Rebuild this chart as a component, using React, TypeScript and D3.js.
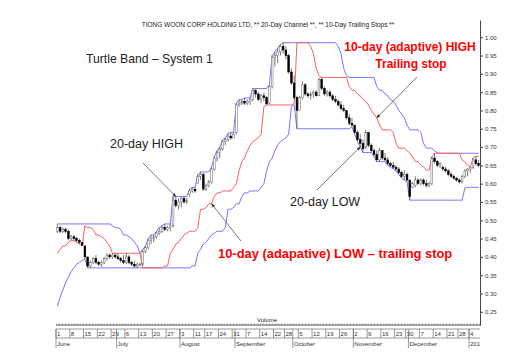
import React, { useRef, useEffect } from "react";
import * as d3 from "d3";

const W = 511;
const H = 359;

// 19 sessions before 1 June, only used to warm up the rolling windows
const priorHigh = [0.3, 0.32, 0.34, 0.36, 0.37, 0.38, 0.39, 0.4, 0.405, 0.42, 0.44, 0.45, 0.45, 0.46, 0.47, 0.48, 0.48, 0.485, 0.49];
const priorLow = [0.265, 0.29, 0.31, 0.33, 0.345, 0.36, 0.37, 0.38, 0.385, 0.39, 0.41, 0.42, 0.43, 0.43, 0.44, 0.45, 0.46, 0.46, 0.47];

// daily OHLC, 1 Jun 2009 .. 7 Jan 2010
const open = [
  0.47, 0.48, 0.47, 0.475, 0.47, 0.45, 0.455, 0.45, 0.445, 0.44, 0.43, 0.4, 0.375, 0.385, 0.395, 0.385, 0.38, 0.385, 0.395, 0.405, 0.4, 0.405,
  0.4, 0.395, 0.39, 0.385, 0.4, 0.385, 0.38, 0.375, 0.38, 0.38, 0.415, 0.425, 0.445, 0.45, 0.455, 0.465, 0.47, 0.48, 0.475, 0.48, 0.485, 0.555, 0.54,
  0.55, 0.56, 0.55, 0.57, 0.58, 0.585, 0.6, 0.62, 0.625, 0.585, 0.595, 0.605, 0.64, 0.67, 0.685, 0.695, 0.715, 0.72, 0.73, 0.725,
  0.74, 0.815, 0.82, 0.825, 0.82, 0.825, 0.83, 0.855, 0.845, 0.83, 0.84, 0.835, 0.82, 0.865, 0.945, 0.95, 0.96, 0.975, 0.965, 0.95, 0.905,
  0.875, 0.835, 0.8, 0.835, 0.87, 0.845, 0.84, 0.845, 0.85, 0.84, 0.885, 0.86, 0.845, 0.85, 0.84, 0.83, 0.825, 0.815, 0.805, 0.8, 0.78, 0.765,
  0.76, 0.74, 0.72, 0.71, 0.7, 0.74, 0.705, 0.69, 0.68, 0.665, 0.69, 0.67, 0.665, 0.655, 0.65, 0.645, 0.64, 0.63, 0.62, 0.625,
  0.61, 0.59, 0.595, 0.61, 0.6, 0.61, 0.6, 0.595, 0.6, 0.67, 0.66, 0.65, 0.645, 0.64, 0.635, 0.625, 0.62, 0.615, 0.61, 0.605, 0.62, 0.635,
  0.64, 0.645, 0.665, 0.655,
];
const high = [
  0.49, 0.485, 0.48, 0.48, 0.475, 0.46, 0.46, 0.455, 0.45, 0.44, 0.43, 0.4, 0.39, 0.4, 0.405, 0.39, 0.39, 0.4, 0.41, 0.41, 0.41, 0.41,
  0.41, 0.4, 0.405, 0.41, 0.405, 0.39, 0.39, 0.385, 0.385, 0.42, 0.43, 0.45, 0.46, 0.46, 0.47, 0.48, 0.485, 0.49, 0.485, 0.49, 0.565, 0.565, 0.56,
  0.565, 0.565, 0.56, 0.585, 0.59, 0.59, 0.625, 0.632, 0.63, 0.6, 0.61, 0.645, 0.674, 0.69, 0.7, 0.72, 0.725, 0.737, 0.74, 0.74,
  0.82, 0.83, 0.83, 0.834, 0.83, 0.835, 0.86, 0.86, 0.85, 0.845, 0.848, 0.84, 0.87, 0.95, 0.96, 0.97, 0.98, 0.985, 0.975, 0.955, 0.915,
  0.895, 0.84, 0.84, 0.88, 0.875, 0.85, 0.85, 0.855, 0.855, 0.89, 0.89, 0.865, 0.855, 0.855, 0.845, 0.84, 0.83, 0.825, 0.815, 0.8, 0.79, 0.78,
  0.76, 0.745, 0.735, 0.72, 0.747, 0.74, 0.71, 0.695, 0.69, 0.697, 0.69, 0.684, 0.673, 0.66, 0.66, 0.65, 0.646, 0.635, 0.637, 0.63,
  0.61, 0.605, 0.62, 0.615, 0.615, 0.615, 0.61, 0.605, 0.673, 0.683, 0.665, 0.66, 0.65, 0.646, 0.64, 0.632, 0.625, 0.618, 0.615, 0.625, 0.64, 0.643,
  0.646, 0.67, 0.675, 0.665,
];
const low = [
  0.465, 0.465, 0.465, 0.465, 0.445, 0.445, 0.445, 0.44, 0.435, 0.43, 0.395, 0.37, 0.37, 0.38, 0.38, 0.375, 0.373, 0.38, 0.39, 0.395, 0.395, 0.395,
  0.39, 0.385, 0.38, 0.38, 0.38, 0.375, 0.37, 0.37, 0.375, 0.375, 0.41, 0.42, 0.435, 0.44, 0.45, 0.46, 0.465, 0.47, 0.47, 0.47, 0.48, 0.535, 0.53,
  0.535, 0.545, 0.545, 0.565, 0.575, 0.575, 0.6, 0.61, 0.58, 0.58, 0.59, 0.6, 0.635, 0.66, 0.67, 0.69, 0.705, 0.715, 0.72, 0.725,
  0.735, 0.81, 0.815, 0.815, 0.815, 0.815, 0.825, 0.835, 0.825, 0.82, 0.825, 0.815, 0.818, 0.86, 0.92, 0.93, 0.95, 0.955, 0.94, 0.9, 0.87,
  0.83, 0.75, 0.8, 0.83, 0.84, 0.835, 0.83, 0.835, 0.838, 0.84, 0.855, 0.84, 0.838, 0.835, 0.825, 0.82, 0.81, 0.8, 0.795, 0.775, 0.76, 0.755,
  0.735, 0.715, 0.7, 0.685, 0.695, 0.7, 0.685, 0.675, 0.66, 0.66, 0.665, 0.66, 0.65, 0.645, 0.64, 0.635, 0.625, 0.615, 0.61, 0.605,
  0.555, 0.588, 0.59, 0.596, 0.595, 0.595, 0.59, 0.59, 0.596, 0.655, 0.645, 0.643, 0.635, 0.63, 0.62, 0.615, 0.61, 0.605, 0.6, 0.6, 0.615, 0.62,
  0.63, 0.64, 0.65, 0.645,
];
const close = [
  0.48, 0.47, 0.475, 0.47, 0.45, 0.455, 0.45, 0.445, 0.44, 0.432, 0.4, 0.375, 0.385, 0.395, 0.385, 0.38, 0.385, 0.395, 0.405, 0.4, 0.405, 0.4,
  0.395, 0.39, 0.385, 0.4, 0.385, 0.38, 0.375, 0.38, 0.38, 0.415, 0.425, 0.445, 0.45, 0.455, 0.465, 0.47, 0.48, 0.475, 0.48, 0.485, 0.555, 0.54, 0.55,
  0.56, 0.55, 0.555, 0.58, 0.585, 0.58, 0.62, 0.625, 0.585, 0.595, 0.605, 0.64, 0.67, 0.685, 0.695, 0.715, 0.72, 0.73, 0.725, 0.735,
  0.815, 0.82, 0.825, 0.82, 0.825, 0.83, 0.855, 0.845, 0.83, 0.84, 0.835, 0.818, 0.865, 0.945, 0.95, 0.96, 0.975, 0.965, 0.95, 0.905, 0.875,
  0.835, 0.8, 0.835, 0.87, 0.845, 0.84, 0.845, 0.85, 0.84, 0.885, 0.86, 0.845, 0.85, 0.84, 0.83, 0.825, 0.815, 0.805, 0.8, 0.78, 0.765, 0.76,
  0.74, 0.72, 0.71, 0.695, 0.74, 0.705, 0.69, 0.68, 0.665, 0.69, 0.67, 0.665, 0.655, 0.65, 0.645, 0.64, 0.63, 0.62, 0.625, 0.61,
  0.565, 0.6, 0.61, 0.6, 0.61, 0.6, 0.595, 0.6, 0.67, 0.66, 0.65, 0.655, 0.64, 0.635, 0.625, 0.62, 0.615, 0.61, 0.605, 0.62, 0.635, 0.64,
  0.645, 0.665, 0.655, 0.65,
];

const firstDay = "2009-06-01";
const lastDay = "2010-01-07";
const holidays = ["2009-08-10", "2009-09-21", "2009-11-27", "2009-12-25", "2010-01-01"];
const monthNames = ["June", "July", "August", "September", "October", "November", "December", "2010"];
const yTicks = [1.0, 0.95, 0.9, 0.85, 0.8, 0.75, 0.7, 0.65, 0.6, 0.55, 0.5, 0.45, 0.4, 0.35, 0.3, 0.25];

// which side the adaptive 10-day stop sits on, from a given session
const stopModes = [
  { from: 0, side: "long" },
  { from: 10, side: "short" },
  { from: 31, side: "long" },
  { from: 87, side: "short" },
];

const FONT = "Liberation Sans, Arial, sans-serif";
const BLUE = "#7474ff";
const RED = "#ff5c5c";

const App = () => {
  const svgRef = useRef<SVGSVGElement>(null);

  useEffect(() => {
    const svg = d3.select(svgRef.current);
    svg.selectAll("*").remove();

    const fmt = d3.utcFormat("%Y-%m-%d");
    const days = d3.utcDay
      .range(new Date(firstDay), d3.utcDay.offset(new Date(lastDay), 1))
      .filter((d) => d.getUTCDay() % 6 !== 0 && !holidays.includes(fmt(d)));
    const n = close.length;
    const idx = d3.range(n);

    // rolling channels
    const allHigh = priorHigh.concat(high);
    const allLow = priorLow.concat(low);
    const off = priorHigh.length;
    const rollMax = (i: number, len: number) => d3.max(allHigh.slice(i + off - len + 1, i + off + 1)) as number;
    const rollMin = (i: number, len: number) => d3.min(allLow.slice(i + off - len + 1, i + off + 1)) as number;
    const hi20 = idx.map((i) => rollMax(i, 20));
    const lo20 = idx.map((i) => rollMin(i, 20));
    const stop10 = idx.map((i) => {
      const mode = stopModes.filter((m) => m.from <= i).pop()!;
      return mode.side === "long" ? rollMin(i, 10) : rollMax(i, 10);
    });

    const x = d3.scaleBand<number>().domain(idx).range([56, 480]).padding(0);
    const bw = x.bandwidth();
    const cx = (i: number) => (x(i) as number) + bw / 2;
    const y = d3.scaleLinear().domain([0.214, 1.047]).range([325, 20]);

    const defs = svg.append("defs");
    defs
      .append("marker")
      .attr("id", "ah")
      .attr("viewBox", "0 0 10 10")
      .attr("refX", 9)
      .attr("refY", 5)
      .attr("markerWidth", 5)
      .attr("markerHeight", 5)
      .attr("orient", "auto")
      .append("path")
      .attr("d", "M0,1L10,5L0,9Z")
      .attr("fill", "#333");
    defs.append("clipPath").attr("id", "plotclip").append("rect").attr("x", 0).attr("y", 0).attr("width", 480).attr("height", H);

    svg.append("rect").attr("width", W).attr("height", H).attr("fill", "#fff");

    // title
    svg
      .append("text")
      .attr("x", 268)
      .attr("y", 27)
      .attr("text-anchor", "middle")
      .attr("font-family", FONT)
      .attr("font-size", 6.5)
      .attr("fill", "#222")
      .text("TIONG WOON CORP HOLDING LTD, ** 20-Day Channel **, ** 10-Day Trailing Stops **");

    // channel lines
    const line = d3
      .line<number>()
      .x((_, i) => cx(i))
      .y((v) => y(v));
    svg.append("path").attr("d", line(hi20)).attr("fill", "none").attr("stroke", BLUE).attr("stroke-width", 1);
    svg.append("path").attr("d", line(lo20)).attr("fill", "none").attr("stroke", BLUE).attr("stroke-width", 1);
    svg.append("path").attr("d", line(stop10)).attr("fill", "none").attr("stroke", RED).attr("stroke-width", 1);

    // candles
    const g = svg.append("g");
    g.selectAll("line.wick")
      .data(idx)
      .enter()
      .append("line")
      .attr("x1", (i) => cx(i))
      .attr("x2", (i) => cx(i))
      .attr("y1", (i) => y(high[i]))
      .attr("y2", (i) => y(low[i]))
      .attr("stroke", "#555")
      .attr("stroke-width", 0.8);
    g.selectAll("rect.body")
      .data(idx)
      .enter()
      .append("rect")
      .attr("x", (i) => cx(i) - 0.9)
      .attr("width", 1.8)
      .attr("y", (i) => y(Math.max(open[i], close[i])))
      .attr("height", (i) => Math.max(0.8, Math.abs(y(open[i]) - y(close[i]))))
      .attr("fill", (i) => (close[i] < open[i] ? "#000" : "#fff"))
      .attr("stroke", (i) => (close[i] < open[i] ? "#000" : "#666"))
      .attr("stroke-width", 0.5);

    // right price axis
    const ya = svg
      .append("g")
      .attr("transform", "translate(480,0)")
      .call(d3.axisRight(y).tickValues(yTicks).tickFormat(d3.format(".2f")).tickSize(3).tickSizeOuter(0));
    ya.select(".domain").attr("stroke", "#444");
    ya.selectAll(".tick line").attr("stroke", "#444");
    ya.selectAll(".tick text").attr("font-family", FONT).attr("font-size", 6).attr("fill", "#333").attr("x", 5);
    ya.selectAll("line.minor")
      .data(d3.range(0.225, 1.03, 0.025))
      .enter()
      .append("line")
      .attr("x1", 0)
      .attr("x2", 1.5)
      .attr("y1", (v) => y(v))
      .attr("y2", (v) => y(v))
      .attr("stroke", "#666")
      .attr("stroke-width", 0.6);

    // bottom date axis
    const ax = svg.append("g").attr("font-family", FONT).attr("fill", "#333");
    ax.append("line").attr("x1", 56).attr("x2", 481).attr("y1", 325).attr("y2", 325).attr("stroke", "#444");
    ax.append("line")
      .attr("x1", 56)
      .attr("x2", 480)
      .attr("y1", 323.5)
      .attr("y2", 323.5)
      .attr("stroke", "#999")
      .attr("stroke-width", 0.6)
      .attr("stroke-dasharray", "1,2");
    ax.append("line").attr("x1", 56).attr("x2", 480).attr("y1", 329).attr("y2", 329).attr("stroke", "#555").attr("stroke-width", 0.6);
    ax.append("line").attr("x1", 56).attr("x2", 480).attr("y1", 338).attr("y2", 338).attr("stroke", "#555").attr("stroke-width", 0.6);

    const weekStarts = idx.filter((i) => i === 0 || +d3.utcMonday.floor(days[i]) !== +d3.utcMonday.floor(days[i - 1]));
    const monthStarts = idx.filter((i) => i === 0 || days[i].getUTCMonth() !== days[i - 1].getUTCMonth());

    ax.selectAll("line.wk")
      .data(weekStarts)
      .enter()
      .append("line")
      .attr("x1", (i) => x(i) as number)
      .attr("x2", (i) => x(i) as number)
      .attr("y1", 329)
      .attr("y2", 338)
      .attr("stroke", "#555")
      .attr("stroke-width", 0.6);
    ax.selectAll("text.wk")
      .data(weekStarts)
      .enter()
      .append("text")
      .attr("x", (i) => (x(i) as number) + 1)
      .attr("y", 335.5)
      .attr("font-size", 6)
      .text((i) => days[i].getUTCDate());
    ax.selectAll("line.mo")
      .data(monthStarts)
      .enter()
      .append("line")
      .attr("x1", (i) => x(i) as number)
      .attr("x2", (i) => x(i) as number)
      .attr("y1", 329)
      .attr("y2", 348)
      .attr("stroke", "#555")
      .attr("stroke-width", 0.6);
    ax.append("g")
      .attr("clip-path", "url(#plotclip)")
      .selectAll("text")
      .data(monthStarts)
      .enter()
      .append("text")
      .attr("x", (i) => (x(i) as number) + 1)
      .attr("y", 345.5)
      .attr("font-size", 6)
      .text((_, k) => monthNames[k]);
    ax.append("text").attr("x", 257).attr("y", 321.5).attr("font-size", 6).attr("fill", "#222").text("Volume");

    // annotations
    const note = (tx: number, ty: number, text: string, size: number, color: string, bold = false, anchor = "start") =>
      svg
        .append("text")
        .attr("x", tx)
        .attr("y", ty)
        .attr("font-family", FONT)
        .attr("font-size", size)
        .attr("font-weight", bold ? "bold" : "normal")
        .attr("fill", color)
        .attr("text-anchor", anchor)
        .text(text);
    note(86, 63, "Turtle Band \u2013 System 1", 12.2, "#222");
    note(110, 148, "20-day HIGH", 12.5, "#222");
    note(290, 206, "20-day LOW", 12.5, "#222");
    note(410, 51, "10-day (adaptive) HIGH", 12, "#f00", true, "middle");
    note(411, 68, "Trailing stop", 12, "#f00", true, "middle");
    note(218, 258, "10-day (adapative) LOW \u2013 trailing stop", 12.9, "#f00", true);

    const arrow = (x1: number, y1: number, i: number, v: number) =>
      svg
        .append("line")
        .attr("x1", x1)
        .attr("y1", y1)
        .attr("x2", cx(i))
        .attr("y2", y(v))
        .attr("stroke", "#555")
        .attr("stroke-width", 0.8)
        .attr("marker-end", "url(#ah)");
    arrow(143, 163, 43, hi20[43]);
    arrow(317, 190, 110, lo20[110]);
    arrow(417, 77, 116, stop10[116]);
    arrow(241, 241, 56, stop10[56]);
  }, []);

  return <svg ref={svgRef} width={W} height={H} style={{ position: "absolute", left: 0, top: 0 }}></svg>;
};

export default App;
